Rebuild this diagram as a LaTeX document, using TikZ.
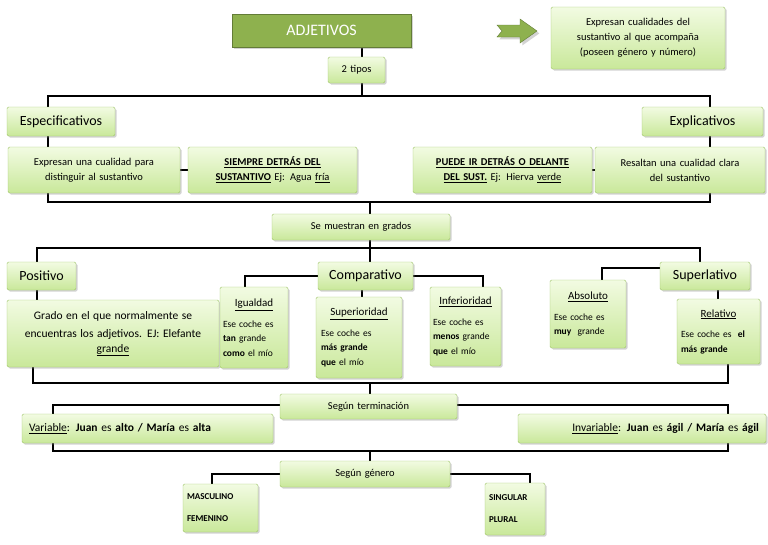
\documentclass[tikz,border=0pt]{standalone}
\usepackage{fontspec}
\setmainfont{Carlito}
\usetikzlibrary{shadows}
\definecolor{lg1}{HTML}{F2FBE2}
\definecolor{lg2}{HTML}{C9E89A}
\definecolor{bd}{HTML}{9FC46A}
\definecolor{dg}{HTML}{8EB14E}
\begin{document}
\begin{tikzpicture}[x=1pt,y=-1pt,
 box/.style={draw=bd,top color=lg1,bottom color=lg2,rounded corners=1.5pt,drop shadow={shadow xshift=1.5pt,shadow yshift=-1.5pt,opacity=.35},align=center,font=\fontsize{10.5}{15}\selectfont,inner sep=2pt},
 sm/.style={box,align=left,font=\fontsize{9.5}{14.5}\selectfont},
 ln/.style={line width=2.6pt,black}]
\useasboundingbox (0,0) rectangle (768,544);
\newcommand\bx[6]{\node[box,minimum width=#4-#2,minimum height=#5-#3,text width=#4-#2-6] (#1) at ({(#2+#4)/2},{(#3+#5)/2}) {#6};}
\newcommand\ttl[1]{\makebox[\linewidth]{\fontsize{11}{14}\selectfont\underline{#1}}\par\vspace{6pt}}
% lines
\draw[ln] (48,202) -- (48,96) -- (710,96) -- (710,202) -- cycle;
\draw[ln] (362,47) -- (362,96);
\draw[ln] (180,170) -- (188,170);
\draw[ln] (592,170) -- (595,170);
\draw[ln] (370,202) -- (370,214);
\draw[ln] (37,300) -- (37,248) -- (700,248) -- (700,262);
\draw[ln] (370,240) -- (370,262);
\draw[ln] (245,287) -- (245,276) -- (483,276) -- (483,287);
\draw[ln] (362,290) -- (362,297);
\draw[ln] (602,280) -- (602,268) -- (660,268);
\draw[ln] (718,290) -- (718,299);
\draw[ln] (33,367) -- (33,383) -- (728,383) -- (728,364);
\draw[ln] (370,383) -- (370,394);
\draw[ln] (53,414) -- (53,405) -- (728,405) -- (728,414);
\draw[ln] (53,443) -- (53,451) -- (728,451) -- (728,443);
\draw[ln] (370,451) -- (370,461);
\draw[ln] (212,484) -- (212,474) -- (530,474) -- (530,483);
% nodes
\node[draw=dg!70!black,fill=dg,minimum width=179,minimum height=33,text=white,font=\fontsize{16}{18}\selectfont,drop shadow={opacity=.35}] (adj) at (321.5,30.5) {ADJETIVOS};
\draw[draw=dg!70!black,fill=dg,drop shadow={opacity=.35}] (497,25) -- (520,25) -- (520,19) -- (537,31) -- (520,43) -- (520,37) -- (497,37) -- (502,31) -- cycle;
\bx{desc}{551}{7}{725}{69}{Expresan cualidades del\\sustantivo al que acompaña\\(poseen género y número)}
\bx{dos}{328}{57}{385}{83}{2 tipos}
\bx{esp}{7}{107}{115}{136}{\fontsize{14}{15}\selectfont Especificativos}
\bx{exp}{642}{107}{763}{136}{\fontsize{14}{15}\selectfont Explicativos}
\bx{e1}{8}{147}{180}{193}{Expresan una cualidad para\\distinguir al sustantivo}
\bx{e2}{188}{147}{357}{193}{\textbf{\underline{SIEMPRE DETRÁS DEL}}\\\textbf{\underline{SUSTANTIVO}} Ej: Agua \underline{fría}}
\bx{x2}{413}{147}{592}{193}{\textbf{\underline{PUEDE IR DETRÁS O DELANTE}}\\\textbf{\underline{DEL SUST.}} Ej: Hierva \underline{verde}}
\bx{x1}{595}{147}{765}{193}{Resaltan una cualidad clara\\del sustantivo}
\bx{grad}{272}{214}{450}{240}{Se muestran en grados}
\bx{pos}{7}{262}{76}{290}{\fontsize{14}{15}\selectfont Positivo}
\bx{comp}{318}{262}{413}{290}{\fontsize{14}{15}\selectfont Comparativo}
\bx{sup}{660}{262}{750}{290}{\fontsize{14}{15}\selectfont Superlativo}
\bx{posd}{7}{300}{219}{367}{\fontsize{11.5}{18}\selectfont Grado en el que normalmente se\\encuentras los adjetivos. EJ: Elefante\\\underline{grande}}
\node[sm,minimum width=68,minimum height=81,text width=62] (ig) at (254,327.5) {\ttl{Igualdad}Ese coche es\\\textbf{tan} grande\\\textbf{como} el mío};
\node[sm,minimum width=86,minimum height=81,text width=76] (si) at (359,337.5) {\ttl{Superioridad}Ese coche es\\\textbf{más grande}\\\textbf{que} el mío};
\node[sm,minimum width=71,minimum height=79,text width=65] (inf) at (465.5,326.5) {\ttl{Inferioridad}Ese coche es\\\textbf{menos} grande\\\textbf{que} el mío};
\node[sm,minimum width=76,minimum height=68,text width=68] (abs) at (588,314) {\ttl{Absoluto}Ese coche es\\\textbf{muy}\ \ grande};
\node[sm,minimum width=83,minimum height=65,text width=75] (rel) at (718.5,331.5) {\ttl{Relativo}Ese coche es\ \ \textbf{el}\\\textbf{más grande}};
\bx{ter}{280}{394}{457}{419}{Según terminación}
\node[box,minimum width=251,minimum height=29,text width=237,align=left,font=\fontsize{11.5}{15}\selectfont] (var) at (147.5,428.5) {\underline{Variable}: \textbf{Juan} es \textbf{alto / María} es \textbf{alta}};
\node[box,minimum width=248,minimum height=29,text width=234,align=right,font=\fontsize{11.5}{15}\selectfont] (inv) at (642,428.5) {\underline{Invariable}: \textbf{Juan} es \textbf{ágil / María} es \textbf{ágil}};
\bx{gen}{280}{461}{450}{487}{Según género}
\node[box,minimum width=75,minimum height=48,text width=67,align=left,font=\fontsize{9}{22}\selectfont\bfseries] (mf) at (220.5,508) {MASCULINO\\FEMENINO};
\node[box,minimum width=60,minimum height=52,text width=52,align=left,font=\fontsize{9}{22}\selectfont\bfseries] (sp) at (515,509) {SINGULAR\\PLURAL};
\end{tikzpicture}
\end{document}
